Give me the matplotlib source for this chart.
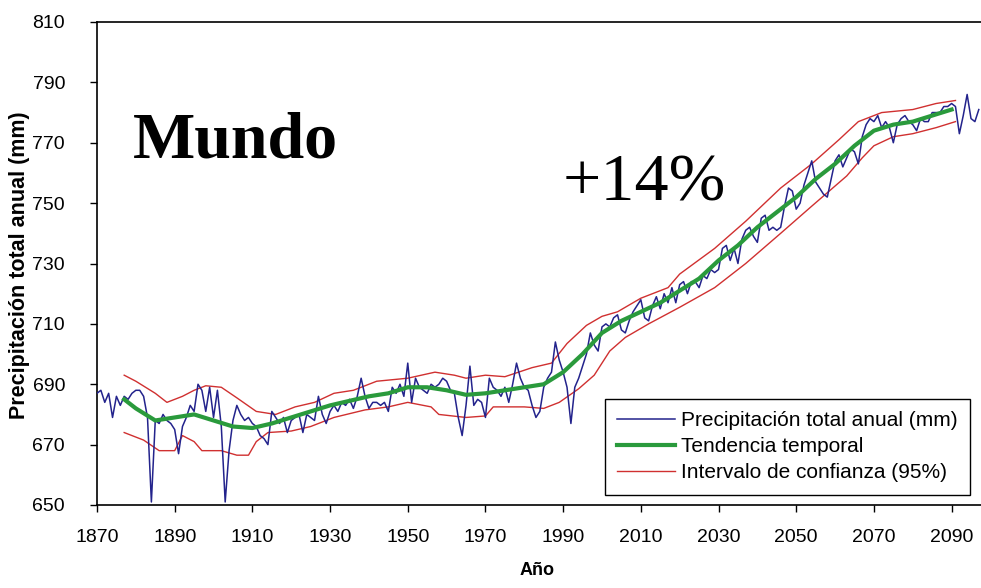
import numpy as np
import matplotlib
matplotlib.use("Agg")
import matplotlib.pyplot as plt

# ---------------- data ----------------
blue_start_year = 1870
blue_values = [
    687, 688, 684, 687, 679, 686, 683, 686, 685, 687,   # 1870-1879
    688, 688, 686, 679, 651, 678, 677, 680, 678, 677,   # 1880-1889
    675, 667, 676, 679, 683, 681, 690, 688, 681, 689,   # 1890-1899
    679, 688, 676, 651, 668, 678, 683, 680, 678, 679,   # 1900-1909
    677, 676, 673, 672, 670, 681, 679, 677, 679, 674,   # 1910-1919
    678, 679, 680, 674, 680, 679, 678, 686, 680, 677,   # 1920-1929
    681, 683, 681, 684, 683, 685, 682, 686, 692, 686,   # 1930-1939
    682, 684, 684, 683, 684, 681, 689, 687, 690, 686,   # 1940-1949
    697, 684, 692, 689, 688, 687, 690, 689, 690, 692,   # 1950-1959
    691, 688, 687, 679, 673, 683, 696, 683, 685, 684,   # 1960-1969
    679, 692, 689, 688, 686, 689, 684, 690, 697, 692,   # 1970-1979
    689, 688, 683, 679, 681, 689, 692, 694, 704, 698,   # 1980-1989
    694, 689, 677, 689, 692, 696, 700, 707, 703, 701,   # 1990-1999
    709, 710, 709, 712, 713, 708, 707, 711, 714, 716,   # 2000-2009
    718, 712, 711, 716, 719, 715, 720, 717, 722, 717,   # 2010-2019
    723, 724, 720, 724, 724, 722, 726, 725, 728, 727,   # 2020-2029
    728, 735, 736, 731, 735, 730, 738, 741, 742, 739,   # 2030-2039
    737, 745, 746, 741, 742, 741, 742, 749, 755, 754,   # 2040-2049
    748, 750, 756, 760, 764, 757, 755, 753, 752, 758,   # 2050-2059
    764, 766, 762, 765, 768, 767, 763, 772, 776, 778,   # 2060-2069
    777, 779, 775, 777, 775, 770, 776, 778, 779, 777,   # 2070-2079
    776, 774, 778, 777, 777, 780, 780, 780, 782, 782,   # 2080-2089
    783, 782, 773, 779, 786, 778, 777, 781,             # 2090-2097
]
blue_years = blue_start_year + np.arange(len(blue_values))

trend_years = [1877, 1880, 1885, 1890, 1895, 1900, 1905, 1910, 1915, 1920,
               1925, 1930, 1935, 1940, 1945, 1950, 1955, 1960, 1965, 1970,
               1975, 1980, 1985, 1990, 1995, 2000, 2005, 2010, 2015, 2020,
               2025, 2030, 2035, 2040, 2045, 2050, 2055, 2060, 2065, 2070,
               2075, 2080, 2085, 2090]
trend_values = [685, 682, 678, 679, 680, 678, 676, 675.5, 677, 679,
                681, 683, 684.5, 686, 687, 689, 689, 688, 686.5, 687,
                688, 689, 690, 694, 700, 707, 711, 714, 717, 721,
                725, 731, 736, 742, 747, 752, 758, 763, 769, 774,
                776, 777, 779, 781]

upper_years = [1877, 1880, 1885, 1888, 1892, 1895, 1898, 1902, 1906, 1911,
               1916, 1921, 1926, 1931, 1936, 1942, 1950, 1957, 1962, 1965,
               1970, 1975, 1982, 1987, 1991, 1996, 2000, 2004, 2010, 2017,
               2020, 2029, 2037, 2046, 2054, 2061, 2066, 2072, 2080, 2086,
               2091]
upper_values = [693, 691, 687, 684, 686, 688, 689.5, 689, 685.5, 681,
                680, 682.5, 684, 687, 688, 691, 692, 694, 693, 692,
                693, 692.5, 695.5, 697, 703.5, 709.5, 712.5, 714, 718.5, 722,
                726.5, 735, 744, 755, 763, 771, 777, 780, 781, 783,
                784]

lower_years = [1877, 1882, 1886, 1890, 1892, 1895, 1897, 1902, 1906, 1909,
               1911, 1914, 1920, 1925, 1931, 1939, 1945, 1950, 1956, 1958,
               1965, 1970, 1972, 1980, 1985, 1989, 1994, 1998, 2002, 2006,
               2012, 2020, 2029, 2037, 2046, 2054, 2063, 2067, 2070, 2075,
               2080, 2086, 2091]
lower_values = [674, 671.5, 668, 668, 673, 671, 668, 668, 666.5, 666.5,
                671, 674, 674.5, 676, 679, 681.5, 682.5, 684, 682.5, 680,
                679, 679.5, 682.5, 682.5, 682, 684, 688.5, 693, 701, 705.5,
                710, 715.5, 722, 730, 740, 749, 759, 765, 769, 772,
                773, 775, 777]

x_ticks = [1870, 1890, 1910, 1930, 1950, 1970, 1990, 2010, 2030, 2050, 2070, 2090]
y_ticks = [650, 670, 690, 710, 730, 750, 770, 790, 810]

# ---------------- figure ----------------
plt.rcParams['font.family'] = ['Liberation Sans', 'DejaVu Sans']
fig = plt.figure(figsize=(9.81, 5.88), dpi=100)
ax = fig.add_axes([97/981, 1 - 505/588, (985 - 97)/981, (505 - 22)/588])

ax.plot(blue_years, blue_values, color='#23238c', lw=1.1,
        label='Precipitación total anual (mm)', zorder=3)
ax.plot(trend_years, trend_values, color='#2a9a3c', lw=3.0,
        label='Tendencia temporal', zorder=4)
ax.plot(upper_years, upper_values, color='#d03030', lw=1.0,
        label='Intervalo de confianza (95%)', zorder=2)
ax.plot(lower_years, lower_values, color='#d03030', lw=1.0, zorder=2)

ax.set_xlim(1870, 2098.6)
ax.set_ylim(650, 810)
ax.set_xticks(x_ticks)
ax.set_yticks(y_ticks)
ax.tick_params(axis='both', labelsize=14, direction='out', length=5,
               width=1, colors='black')
ax.tick_params(axis='x', pad=12)
ax.tick_params(axis='y', pad=18)
for s in ax.spines.values():
    s.set_linewidth(1.2)
    s.set_color('black')
ax.spines['right'].set_visible(False)

ax.set_xlabel('Año', fontsize=13, fontweight='bold')
ax.xaxis.set_label_coords(0.496, -0.118)
ax.set_ylabel('Precipitación total anual (mm)', fontsize=15.5, fontweight='bold')
ax.yaxis.set_label_coords(-0.076, 0.497)

ax.text(1879.3, 765, 'Mundo', fontsize=47.5, fontweight='bold',
        family='Liberation Serif', ha='left', va='baseline')
ax.text(1989.8, 751, '+14%', fontsize=49, family='Liberation Serif',
        ha='left', va='baseline')

leg = ax.legend(loc='lower right', fontsize=15, frameon=True, fancybox=False,
                edgecolor='black', framealpha=1, handlelength=2.75,
                borderpad=0.6, labelspacing=0.34, handletextpad=0.3,
                borderaxespad=0, bbox_to_anchor=(0.983, 0.021))
leg.get_frame().set_linewidth(1.0)

fig.savefig('out.png', dpi=100)
